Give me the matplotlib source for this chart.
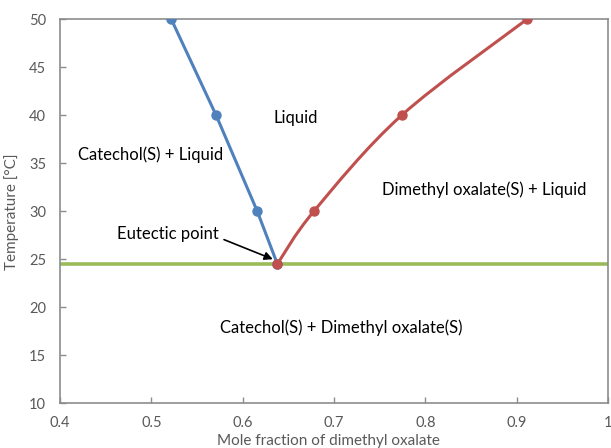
import matplotlib
matplotlib.use("Agg")
import matplotlib.pyplot as plt
from matplotlib.path import Path
from matplotlib.patches import PathPatch

plt.rcParams['font.family'] = ['Lato', 'DejaVu Sans']

# catechol(S) liquidus
cat_x = [0.522, 0.571, 0.616, 0.638]
cat_t = [50, 40, 30, 24.5]
# dimethyl oxalate(S) liquidus
dmo_x = [0.638, 0.678, 0.774, 0.911]
dmo_t = [24.5, 30, 40, 50]
# eutectic line
eut_x = [0.4, 1.0]
eut_t = [24.5, 24.5]

blue = '#4F81BD'
red = '#C0504D'
green = '#9BBB59'
grey = '#595959'

fig = plt.figure(figsize=(6.11, 4.48), dpi=100)
ax = fig.add_axes([0.0982, 0.1004, 0.8968, 0.8561])


def smooth_path(xs, ys, k=1/6):
    # Excel-style smoothed line (Catmull-Rom as cubic bezier)
    pts = list(zip(xs, ys))
    verts = [pts[0]]
    codes = [Path.MOVETO]
    n = len(pts)
    for i in range(n - 1):
        p0 = pts[i - 1] if i > 0 else pts[i]
        p1 = pts[i]
        p2 = pts[i + 1]
        p3 = pts[i + 2] if i + 2 < n else pts[i + 1]
        c1 = (p1[0] + (p2[0] - p0[0]) * k, p1[1] + (p2[1] - p0[1]) * k)
        c2 = (p2[0] - (p3[0] - p1[0]) * k, p2[1] - (p3[1] - p1[1]) * k)
        verts += [c1, c2, p2]
        codes += [Path.CURVE4] * 3
    return Path(verts, codes)


ax.plot(eut_x, eut_t, color=green, lw=2.6, zorder=2, solid_capstyle='butt')
ax.plot(cat_x, cat_t, color=blue, lw=2.2, marker='o', ms=6.5, zorder=3)
ax.add_patch(PathPatch(smooth_path(dmo_x, dmo_t), fill=False, edgecolor=red, lw=2.2, zorder=4))
ax.plot(dmo_x, dmo_t, ls='none', color=red, marker='o', ms=6.5, zorder=5)

ax.set_xlim(0.4, 1.0)
ax.set_ylim(10, 50)
ax.set_xticks([0.4, 0.5, 0.6, 0.7, 0.8, 0.9, 1.0])
ax.set_xticklabels(['0.4', '0.5', '0.6', '0.7', '0.8', '0.9', '1'])
ax.set_yticks(range(10, 51, 5))
ax.tick_params(direction='in', length=4, width=1, color='#8C8C8C', labelcolor=grey, labelsize=10.5)
ax.tick_params(axis='y', pad=10)
ax.tick_params(axis='x', pad=9)
for s in ax.spines.values():
    s.set_color('#8C8C8C')
    s.set_linewidth(1.2)

ax.set_xlabel('Mole fraction of dimethyl oxalate', color=grey, fontsize=11)
ax.xaxis.set_label_coords(0.49, -0.082)
ax.set_ylabel('Temperature [\u00b0C]', color=grey, fontsize=11)
ax.yaxis.set_label_coords(-0.075, 0.5)

tkw = dict(fontsize=12, color='black', ha='center', va='center')
ax.text(0.658, 39.7, 'Liquid', **tkw)
ax.text(0.4995, 35.9, 'Catechol(S) + Liquid', **tkw)
ax.text(0.865, 32.2, 'Dimethyl oxalate(S) + Liquid', **tkw)
ax.text(0.7076, 17.9, 'Catechol(S) + Dimethyl oxalate(S)', **tkw)
ax.annotate('Eutectic point', xy=(0.633, 25.0), xytext=(0.518, 27.6),
            fontsize=12, ha='center', va='center',
            arrowprops=dict(arrowstyle='-|>', color='black', lw=1.2,
                            shrinkA=2, shrinkB=0, mutation_scale=12,
                            relpos=(1.0, 0.3)))

fig.savefig('out.png', dpi=100)
